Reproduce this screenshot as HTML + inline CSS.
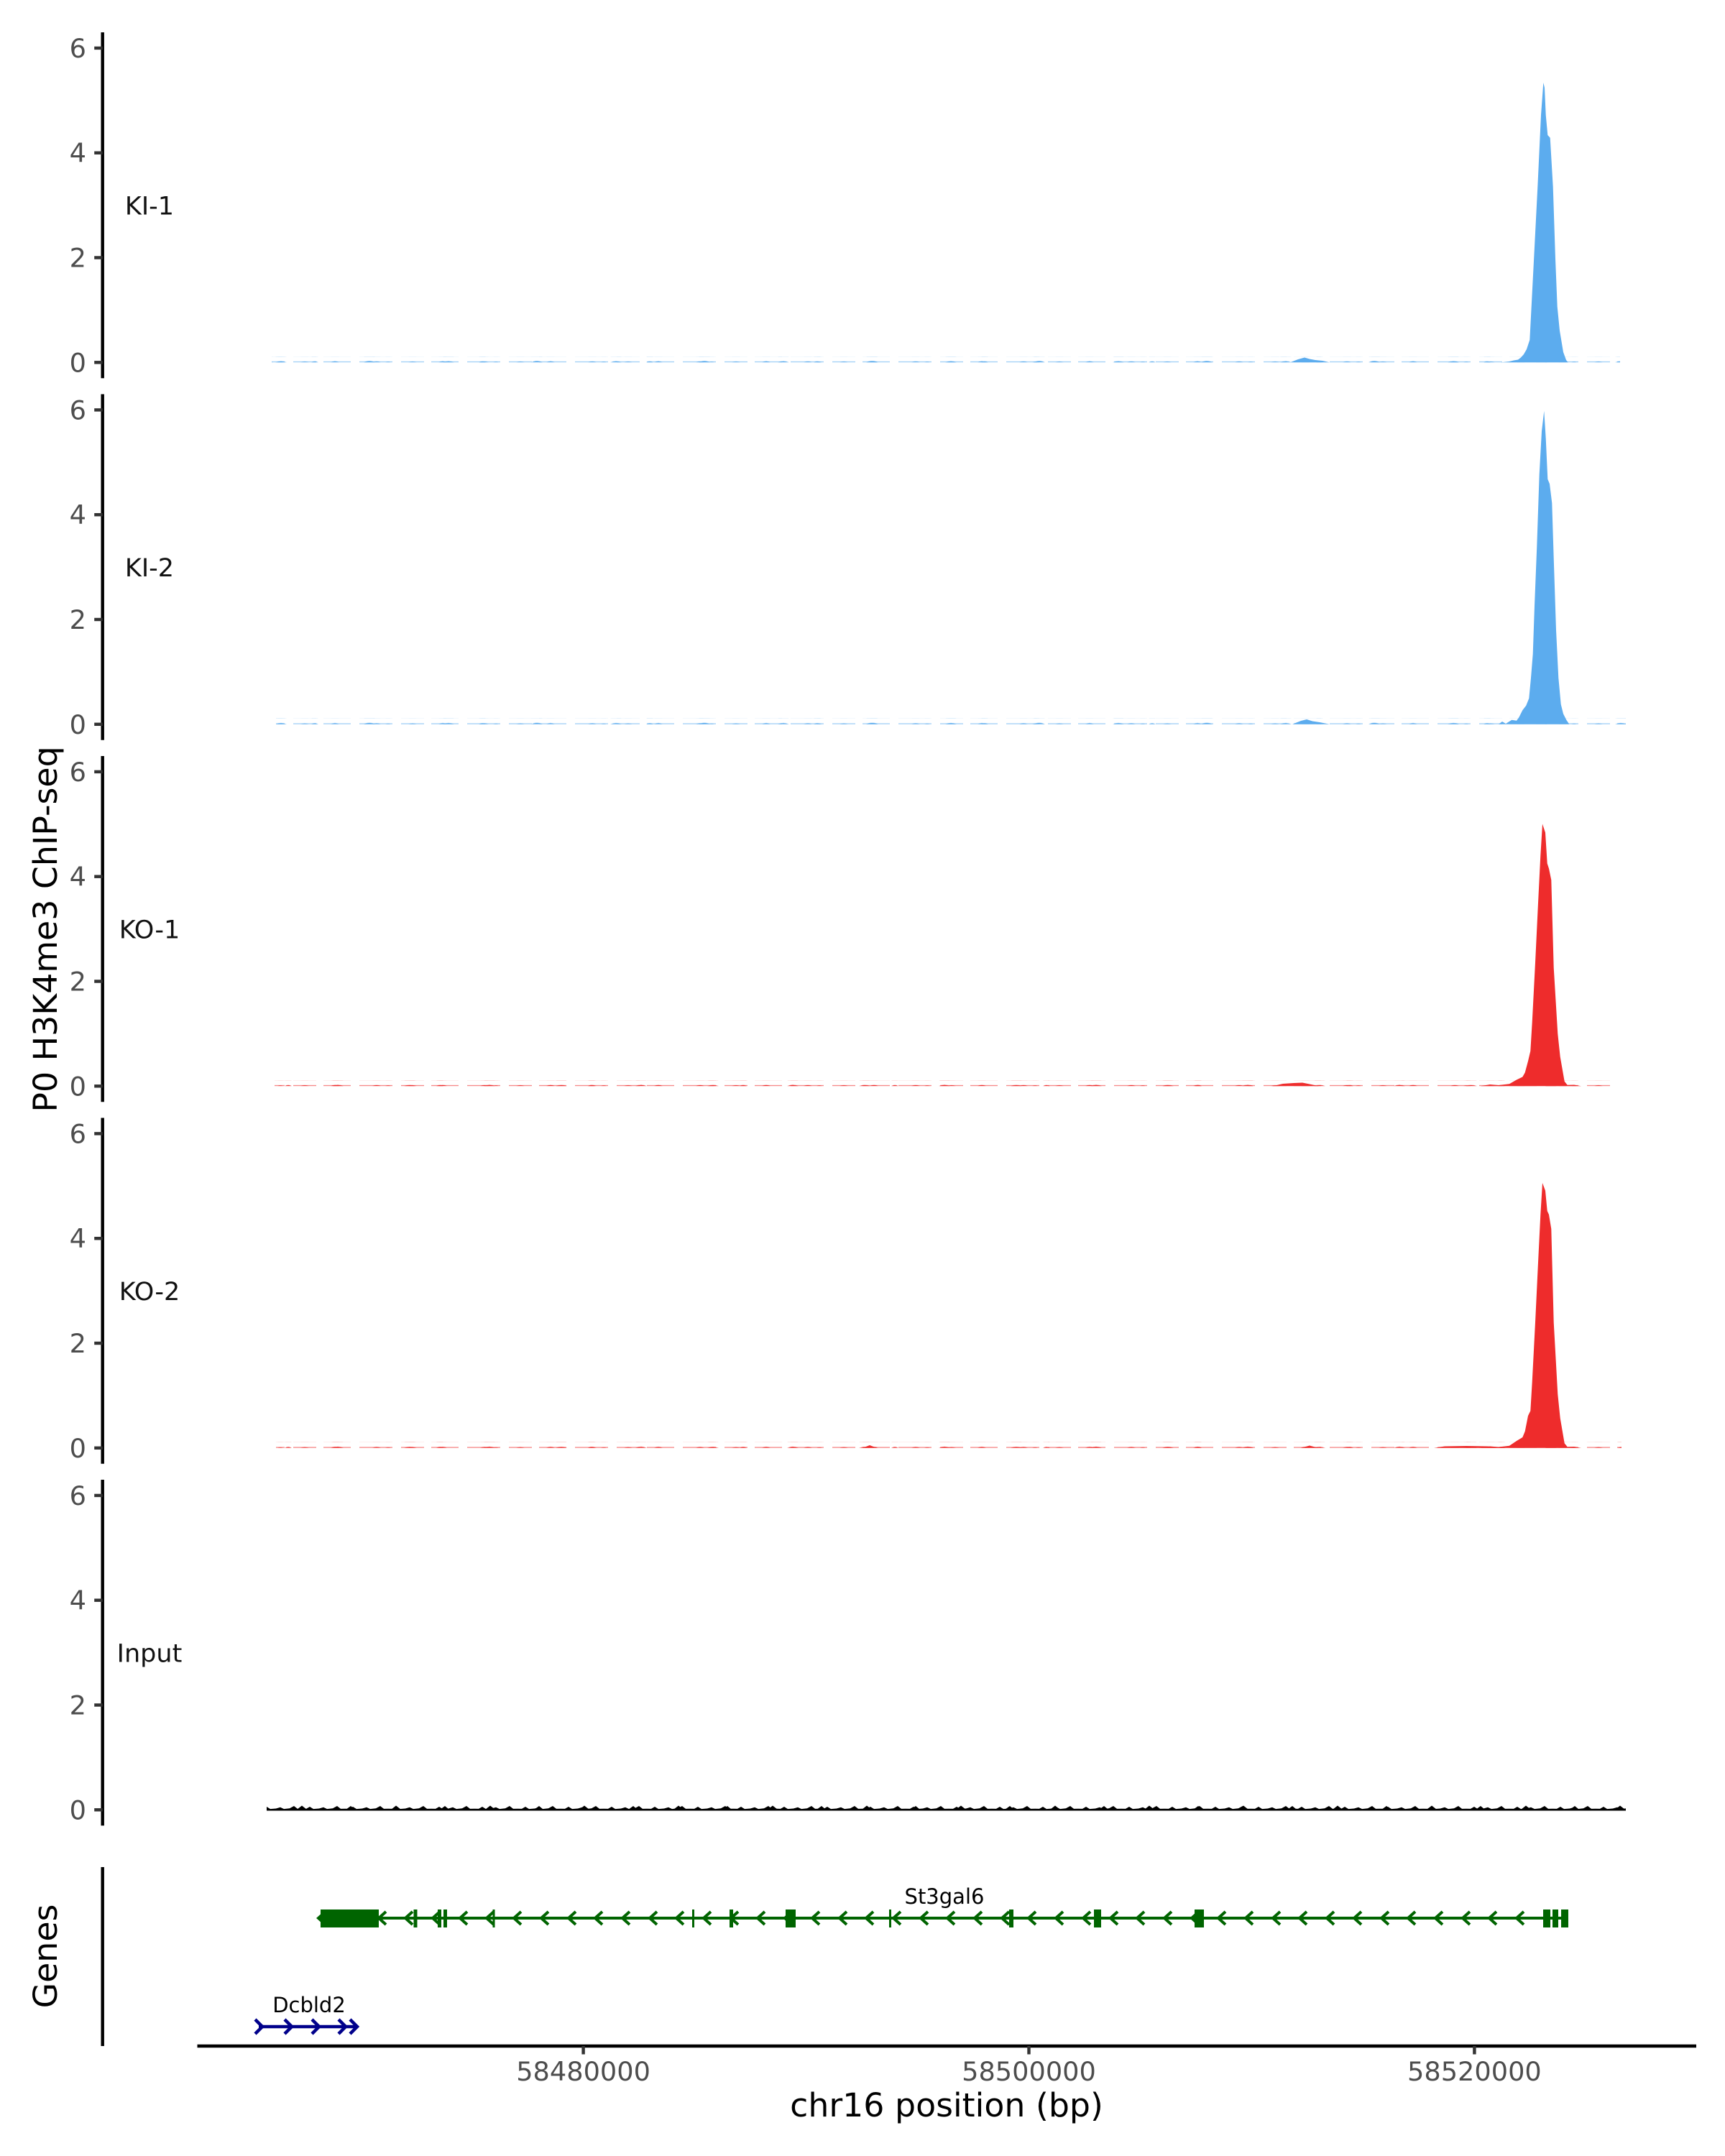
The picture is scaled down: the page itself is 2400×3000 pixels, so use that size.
<!DOCTYPE html>
<html>
<head>
<meta charset="utf-8">
<style>
  html,body{margin:0;padding:0;background:#fff;}
  svg{display:block;}
  .tick{font-family:"DejaVu Sans","Liberation Sans",sans-serif;font-size:36.7px;fill:#4d4d4d;}
  .ttl{font-family:"DejaVu Sans","Liberation Sans",sans-serif;font-size:45.8px;fill:#000;}
  .lab{font-family:"DejaVu Sans","Liberation Sans",sans-serif;font-size:35px;fill:#111;}
  .gl{font-family:"DejaVu Sans","Liberation Sans",sans-serif;font-size:29px;fill:#000;}
</style>
</head>
<body>
<svg xmlns="http://www.w3.org/2000/svg" width="2400" height="3000" viewBox="0 0 2400 3000">
<defs>
  <pattern id="pb1" patternUnits="userSpaceOnUse" width="150" height="8">
    <g fill="#5cacee">
      <path opacity="0.6" d="M0,8V6.6H38V8Z M50,8V6.6H96V8Z M108,8V6.6H140V8Z"/>
      <path d="M10,8Q16,4.5 22,8Z M68,8Q74,5 80,8Z M118,8Q124,5.5 130,8Z M86,8Q90,6 94,8Z"/>
    </g>
  </pattern>
  <pattern id="pb2" patternUnits="userSpaceOnUse" width="233" height="8">
    <path fill="#5cacee" d="M40,8Q48,4 56,8Z M150,8Q158,4.5 166,8Z M200,8Q205,5 210,8Z"/>
  </pattern>
  <pattern id="pr1" patternUnits="userSpaceOnUse" width="150" height="8">
    <g fill="#ee2c2c">
      <path opacity="0.6" d="M0,8V6.6H38V8Z M50,8V6.6H96V8Z M108,8V6.6H140V8Z"/>
      <path d="M10,8Q16,4.8 22,8Z M68,8Q74,5 80,8Z M118,8Q124,5.5 130,8Z M86,8Q90,6 94,8Z"/>
    </g>
  </pattern>
  <pattern id="pr2" patternUnits="userSpaceOnUse" width="211" height="8">
    <path fill="#ee2c2c" d="M40,8Q48,4.5 56,8Z M140,8Q148,5 156,8Z M185,8Q190,5 195,8Z"/>
  </pattern>
  <pattern id="pk1" patternUnits="userSpaceOnUse" width="60" height="12">
    <path fill="#000" d="M0,12V9.2L6,9.4L11,6.5L16,9.6L24,9L30,7.2L35,9.6L43,8.8L49,5.5L54,9.4L60,9.2V12Z"/>
  </pattern>
  <pattern id="pk2" patternUnits="userSpaceOnUse" width="131" height="12">
    <path fill="#000" d="M18,12L27,5L36,12Z M86,12L95,5.5L103,12Z"/>
  </pattern>
</defs>
<rect width="2400" height="3000" fill="#fff"/>

<!-- baseline noise -->
<g transform="translate(0,504.3)">
  <rect x="378" y="-8" width="1876" height="8" fill="url(#pb1)"/>
  <rect x="378" y="-8" width="1876" height="8" fill="url(#pb2)"/>
</g>
<g transform="translate(0,1007.8)">
  <rect x="384" y="-8" width="1878" height="8" fill="url(#pb1)"/>
  <rect x="384" y="-8" width="1878" height="8" fill="url(#pb2)"/>
</g>
<g transform="translate(0,1511.3)">
  <rect x="382" y="-8" width="1868" height="8" fill="url(#pr1)"/>
  <rect x="382" y="-8" width="1868" height="8" fill="url(#pr2)"/>
</g>
<g transform="translate(0,2014.8)">
  <rect x="384" y="-8" width="1872" height="8" fill="url(#pr1)"/>
  <rect x="384" y="-8" width="1872" height="8" fill="url(#pr2)"/>
</g>
<g transform="translate(0,2519.5)">
  <rect x="371" y="-12" width="1891" height="12" fill="url(#pk1)"/>
  <rect x="371" y="-12" width="1891" height="12" fill="url(#pk2)"/>
</g>

<!-- specific bumps -->
<path fill="#5cacee" d="M1795,504.3 L1806,500 L1815,497.5 L1822,499.5 L1830,501 L1840,502 L1850,504.3Z"/>
<path fill="#5cacee" d="M1798,1007.8 L1810,1003 L1818,1001 L1826,1003.5 L1836,1005 L1850,1007.8Z"/>
<path fill="#ee2c2c" d="M1770,1511.3 L1785,1508 L1800,1507 L1812,1506.5 L1822,1508.5 L1835,1511.3Z"/>
<path fill="#ee2c2c" d="M1200,2014.8 L1210,2011 L1220,2014.8Z M1810,2014.8 L1822,2011.5 L1834,2014.8Z M1995,2014.8 L2010,2012.5 L2040,2012 L2070,2012.5 L2095,2014.8Z"/>

<!-- peaks -->
<path fill="#5cacee" d="M2088,504.3 L2100,503 L2106,501.5 L2112,500.5 L2116,497.5 L2120,493 L2124,486 L2128.3,473 L2133.3,376.7 L2139.3,260 L2144,160 L2147.3,115 L2149,122 L2150.7,160 L2153.3,188 L2156.7,191.7 L2160.7,260 L2164,360 L2166.7,426.7 L2170,460 L2175,490 L2179,501 L2181.7,504.3 Z"/>
<path fill="#5cacee" d="M2085,1007.8 L2090,1004 L2095,1007 L2103.3,1001.7 L2110,1002.7 L2113.3,998.3 L2118.3,988.3 L2123.3,981.7 L2127.3,971.7 L2130,943.3 L2132.7,910 L2135,843.3 L2138.3,760 L2141.7,660 L2145,600 L2148.3,571.7 L2150.7,610 L2153.3,666.7 L2156,673.3 L2159.3,700 L2161.7,776.7 L2165,876.7 L2168.3,943.3 L2171.7,980 L2175,993.3 L2179.3,1001.7 L2183.3,1007.8 Z"/>
<path fill="#ee2c2c" transform="translate(0,-503.5)" d="M2060,2014.8 L2073,2012.5 L2085,2013.5 L2100,2011.7 L2110,2006 L2118.3,2002 L2121.7,1996 L2126,1980 L2129.3,1966 L2131.7,1926 L2136,1843 L2140,1760 L2143.3,1694 L2146,1650 L2150,1662 L2152.7,1705 L2155,1712 L2158.3,1728 L2161.7,1850 L2167.3,1942 L2170.7,1974 L2176.7,2008.3 L2180.7,2013.3 L2190,2013 L2200,2014.8 Z"/>
<path fill="#ee2c2c" d="M2060,2014.8 L2073,2012.5 L2085,2013.5 L2100,2011.7 L2110,2005 L2118.3,2000 L2121.7,1991.7 L2126,1970 L2129.3,1963.3 L2131.7,1923 L2136,1840 L2140,1756.7 L2143.3,1690 L2146,1646 L2150,1656.7 L2152.7,1685 L2155,1690 L2158.3,1710 L2161.7,1840 L2167.3,1940 L2170.7,1973.3 L2176.7,2008.3 L2180.7,2013.3 L2190,2013 L2200,2014.8 Z"/>

<!-- y axes -->
<g stroke="#000" stroke-width="4.45">
  <line x1="142.7" y1="45" x2="142.7" y2="526.2"/>
  <line x1="142.7" y1="548.5" x2="142.7" y2="1029.7"/>
  <line x1="142.7" y1="1052" x2="142.7" y2="1533.2"/>
  <line x1="142.7" y1="1555.5" x2="142.7" y2="2036.7"/>
  <line x1="142.7" y1="2059" x2="142.7" y2="2540.2"/>
  <line x1="142.7" y1="2598" x2="142.7" y2="2847"/>
</g>
<g stroke="#333" stroke-width="4.45">
  <line x1="131.2" y1="504.3" x2="142.7" y2="504.3"/><line x1="131.2" y1="358.5" x2="142.7" y2="358.5"/><line x1="131.2" y1="212.7" x2="142.7" y2="212.7"/><line x1="131.2" y1="66.9" x2="142.7" y2="66.9"/>
  <line x1="131.2" y1="1007.8" x2="142.7" y2="1007.8"/><line x1="131.2" y1="862" x2="142.7" y2="862"/><line x1="131.2" y1="716.2" x2="142.7" y2="716.2"/><line x1="131.2" y1="570.4" x2="142.7" y2="570.4"/>
  <line x1="131.2" y1="1511.3" x2="142.7" y2="1511.3"/><line x1="131.2" y1="1365.5" x2="142.7" y2="1365.5"/><line x1="131.2" y1="1219.7" x2="142.7" y2="1219.7"/><line x1="131.2" y1="1073.9" x2="142.7" y2="1073.9"/>
  <line x1="131.2" y1="2014.8" x2="142.7" y2="2014.8"/><line x1="131.2" y1="1869" x2="142.7" y2="1869"/><line x1="131.2" y1="1723.2" x2="142.7" y2="1723.2"/><line x1="131.2" y1="1577.4" x2="142.7" y2="1577.4"/>
  <line x1="131.2" y1="2518.3" x2="142.7" y2="2518.3"/><line x1="131.2" y1="2372.5" x2="142.7" y2="2372.5"/><line x1="131.2" y1="2226.7" x2="142.7" y2="2226.7"/><line x1="131.2" y1="2080.9" x2="142.7" y2="2080.9"/>
</g>
<g class="tick" text-anchor="end">
  <text x="120" y="517.3">0</text><text x="120" y="371.5">2</text><text x="120" y="225.7">4</text><text x="120" y="79.9">6</text>
  <text x="120" y="1020.8">0</text><text x="120" y="875">2</text><text x="120" y="729.2">4</text><text x="120" y="583.4">6</text>
  <text x="120" y="1524.3">0</text><text x="120" y="1378.5">2</text><text x="120" y="1232.7">4</text><text x="120" y="1086.9">6</text>
  <text x="120" y="2027.8">0</text><text x="120" y="1882">2</text><text x="120" y="1736.2">4</text><text x="120" y="1590.4">6</text>
  <text x="120" y="2531.3">0</text><text x="120" y="2385.5">2</text><text x="120" y="2239.7">4</text><text x="120" y="2093.9">6</text>
</g>

<!-- track labels -->
<g class="lab" text-anchor="middle">
  <text x="208" y="298.6">KI-1</text>
  <text x="208" y="802.1">KI-2</text>
  <text x="208" y="1305.6">KO-1</text>
  <text x="208" y="1809.1">KO-2</text>
  <text x="208" y="2312.6">Input</text>
</g>

<!-- axis titles -->
<text class="ttl" text-anchor="middle" transform="translate(79,1293) rotate(-90)">P0 H3K4me3 ChIP-seq</text>
<text class="ttl" text-anchor="middle" transform="translate(79,2722) rotate(-90)">Genes</text>

<!-- x axis -->
<line x1="274.5" y1="2847" x2="2360" y2="2847" stroke="#000" stroke-width="4.45"/>
<g stroke="#333" stroke-width="4.45">
  <line x1="811.6" y1="2847" x2="811.6" y2="2858.5"/>
  <line x1="1431.5" y1="2847" x2="1431.5" y2="2858.5"/>
  <line x1="2051.4" y1="2847" x2="2051.4" y2="2858.5"/>
</g>
<g class="tick" text-anchor="middle">
  <text x="811.6" y="2895">58480000</text>
  <text x="1431.5" y="2895">58500000</text>
  <text x="2051.4" y="2895">58520000</text>
</g>
<text class="ttl" x="1317" y="2945" text-anchor="middle">chr16 position (bp)</text>

<!-- St3gal6 gene -->
<g stroke="#006400" fill="none" stroke-width="4">
  <line x1="446" y1="2669" x2="2182" y2="2669"/>
  <path d="M2120,2660L2110,2669L2120,2678 M2082,2660L2072,2669L2082,2678 M2045,2660L2035,2669L2045,2678 M2007,2660L1997,2669L2007,2678 M1969,2660L1959,2669L1969,2678 M1932,2660L1922,2669L1932,2678 M1894,2660L1884,2669L1894,2678 M1856,2660L1846,2669L1856,2678 M1818,2660L1808,2669L1818,2678 M1781,2660L1771,2669L1781,2678 M1743,2660L1733,2669L1743,2678 M1705,2660L1695,2669L1705,2678 M1668,2660L1658,2669L1668,2678 M1630,2660L1620,2669L1630,2678 M1592,2660L1582,2669L1592,2678 M1555,2660L1545,2669L1555,2678 M1517,2660L1507,2669L1517,2678 M1479,2660L1469,2669L1479,2678 M1441,2660L1431,2669L1441,2678 M1404,2660L1394,2669L1404,2678 M1366,2660L1356,2669L1366,2678 M1328,2660L1318,2669L1328,2678 M1291,2660L1281,2669L1291,2678 M1253,2660L1243,2669L1253,2678 M1215,2660L1205,2669L1215,2678 M1178,2660L1168,2669L1178,2678 M1140,2660L1130,2669L1140,2678 M1102,2660L1092,2669L1102,2678 M1064,2660L1054,2669L1064,2678 M1027,2660L1017,2669L1027,2678 M989,2660L979,2669L989,2678 M951,2660L941,2669L951,2678 M914,2660L904,2669L914,2678 M876,2660L866,2669L876,2678 M838,2660L828,2669L838,2678 M801,2660L791,2669L801,2678 M763,2660L753,2669L763,2678 M725,2660L715,2669L725,2678 M687,2660L677,2669L687,2678 M650,2660L640,2669L650,2678 M612,2660L602,2669L612,2678 M574,2660L564,2669L574,2678 M537,2660L527,2669L537,2678 M453,2660L443,2669L453,2678"/>
</g>
<g fill="#006400">
  <rect x="446" y="2657" width="81" height="25"/>
  <rect x="575.5" y="2657" width="5" height="25"/>
  <rect x="609" y="2657" width="5" height="25"/>
  <rect x="617" y="2657" width="5" height="25"/>
  <rect x="685.5" y="2657" width="3" height="25"/>
  <rect x="963" y="2657" width="3" height="25"/>
  <rect x="1015" y="2657" width="5" height="25"/>
  <rect x="1093" y="2657" width="14" height="25"/>
  <rect x="1237" y="2657" width="3" height="25"/>
  <rect x="1404" y="2657" width="6" height="25"/>
  <rect x="1522" y="2657" width="10" height="25"/>
  <rect x="1662" y="2657" width="13" height="25"/>
  <rect x="2147" y="2657" width="10" height="25"/>
  <rect x="2160" y="2657" width="8" height="25"/>
  <rect x="2172" y="2657" width="10" height="25"/>
</g>
<text class="gl" x="1314" y="2649" text-anchor="middle">St3gal6</text>

<!-- Dcbld2 gene -->
<g stroke="#00008b" fill="none" stroke-width="4.5">
  <line x1="360" y1="2820" x2="497" y2="2820"/>
  <path d="M355,2810L365,2820L355,2830 M396,2810L406,2820L396,2830 M434,2810L444,2820L434,2830 M471,2810L481,2820L471,2830 M487,2810L497,2820L487,2830"/>
</g>
<text class="gl" x="430" y="2800" text-anchor="middle">Dcbld2</text>
</svg>
</body>
</html>
